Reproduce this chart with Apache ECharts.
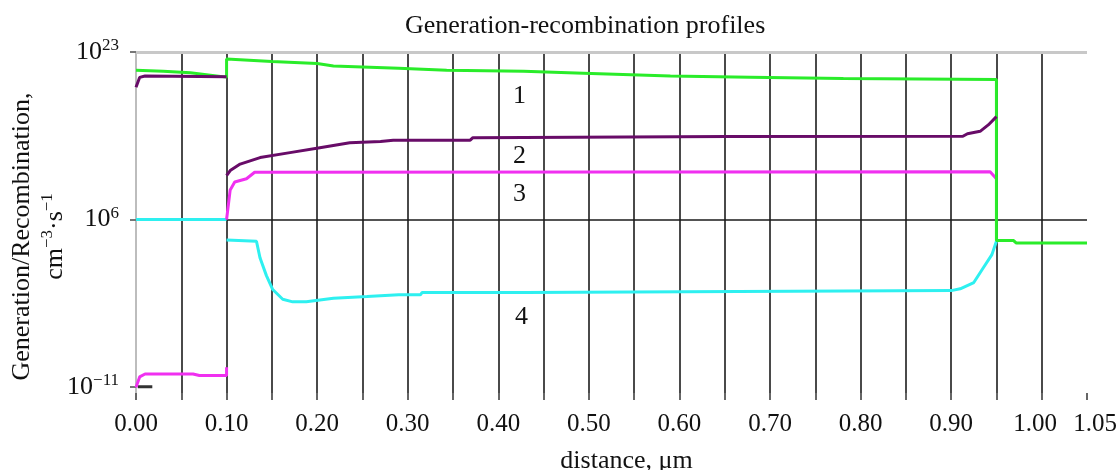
<!DOCTYPE html>
<html>
<head>
<meta charset="utf-8">
<script src="https://cdn.jsdelivr.net/npm/echarts@6/dist/echarts.min.js"></script>
<style>html,body{margin:0;padding:0;background:#fff}#c{width:1118px;height:470px}</style>
</head>
<body>
<div id="c"></div>
<script>
// distance (µm) and log10 of rate (cm^-3·s^-1); null = break in curve
const curve1X   = [0, 0.03, 0.06, 0.1, 0.1, 0.15, 0.2, 0.218, 0.29, 0.343, 0.428, 0.494, 0.59, 0.678, 0.781, 0.95, 0.95, 0.969, 0.972, 1.05];
const curve1Log = [21.14, 21.04, 20.89, 20.45, 22.30, 22.04, 21.84, 21.57, 21.34, 21.14, 21.04, 20.84, 20.57, 20.45, 20.32, 20.22, 3.87, 3.87, 3.61, 3.61];

const curve2X   = [0, 0.004, 0.01, 0.1, 0.1, 0.1, 0.104, 0.115, 0.137, 0.17, 0.203, 0.236, 0.27, 0.284, 0.369, 0.372, 0.653, 0.913, 0.918, 0.932, 0.941, 0.95];
const curve2Log = [19.42, 20.42, 20.57, 20.48, null, 10.47, 10.97, 11.63, 12.29, 12.79, 13.29, 13.79, 13.93, 14.05, 14.05, 14.31, 14.43, 14.45, 14.71, 14.95, 15.60, 16.44];

const curve3X   = [0, 0.004, 0.01, 0.063, 0.07, 0.1, 0.1, 0.1, 0.1, 0.104, 0.109, 0.122, 0.131, 0.943, 0.95];
const curve3Log = [-11.03, -9.97, -9.67, -9.67, -9.83, -9.83, -8.98, null, 6, 9.01, 9.81, 10.14, 10.80, 10.85, 10.14];

const curve4X   = [0, 0.1, 0.1, 0.1, 0.133, 0.137, 0.144, 0.151, 0.162, 0.173, 0.188, 0.218, 0.255, 0.29, 0.314, 0.316, 0.43, 0.432, 0.9, 0.91, 0.925, 0.935, 0.945, 0.95];
const curve4Log = [6, 6, null, 3.93, 3.80, 2.09, 0.31, -1.10, -2.09, -2.35, -2.35, -1.99, -1.82, -1.64, -1.64, -1.39, -1.39, -1.21, -1.21, -1.03, -0.39, 1.03, 2.44, 3.80];

const curve5X   = [0.002, 0.018];
const curve5Log = [-10.97, -10.97];

const xTickLabels = [0, 0.1, 0.2, 0.3, 0.4, 0.5, 0.6, 0.7, 0.8, 0.9, 1.0, 1.05];
const yTickExponents = [-11, 6, 23];
const curveNames = ['1', '2', '3', '4'];

const FONT = '"Liberation Serif", "Times New Roman", serif';
const pairs = (xs, ys) => xs.map((x, i) => [x, ys[i] === null ? null : ys[i]]);
const supText = v => (v < 0 ? '\u2212' + (-v) : String(v));

const chart = echarts.init(document.getElementById('c'), null, {renderer: 'canvas'});

function lineSeries(name, xs, ys, color, z) {
  return {
    name, type: 'line', data: pairs(xs, ys), showSymbol: false, symbol: 'none',
    connectNulls: false, z,
    lineStyle: {color, width: 3}, animation: false
  };
}

const series = [
  Object.assign(lineSeries('5', curve5X, curve5Log, '#333333', 1), {
    markLine: {
      silent: true, symbol: 'none', animation: false, label: {show: false}, z: 1,
      data: [
        {yAxis: 23, lineStyle: {color: '#c8c8c8', width: 3, type: 'solid'}},
        {yAxis: 6, lineStyle: {color: '#1a1a1a', width: 1.5, type: 'solid'}}
      ]
    }
  }),
  lineSeries('4', curve4X, curve4Log, '#2ef0f0', 3),
  lineSeries('3', curve3X, curve3Log, '#f030f0', 4),
  lineSeries('1', curve1X, curve1Log, '#2aec2a', 5),
  lineSeries('2', curve2X, curve2Log, '#680c68', 6)
];

const xLabelStyle = {fontFamily: FONT, fontSize: 25, color: '#111'};

chart.setOption({
  animation: false,
  backgroundColor: '#ffffff',
  title: {
    text: 'Generation-recombination profiles',
    left: 400, top: 8,
    textStyle: {fontFamily: FONT, fontSize: 26, fontWeight: 'normal', color: '#111'}
  },
  grid: {left: 136, right: 31, top: 52, bottom: 77, containLabel: false, outerBoundsMode: 'none'},
  xAxis: {
    type: 'value', min: 0, max: 1.05, interval: 0.05,
    name: 'distance, \u03bcm', nameLocation: 'middle', nameGap: 55, nameMoveOverlap: false,
    nameTextStyle: {fontFamily: FONT, fontSize: 26, color: '#111', padding: [0, 0, 0, 30]},
    axisLine: {show: false, onZero: false},
    axisTick: {show: true, length: 7, lineStyle: {color: '#666', width: 2}},
    axisLabel: {
      customValues: xTickLabels,
      margin: 19, fontFamily: FONT, fontSize: 25, color: '#111', showMinLabel: true, showMaxLabel: true,
      hideOverlap: false,
      formatter: v => {
        const k = Math.round(v * 100);
        const t = (k / 100).toFixed(2);
        if (k === 100) return '{l|' + t + '}';
        if (k === 105) return '{r|' + t + '}';
        return t;
      },
      rich: {
        l: Object.assign({padding: [0, 13, 0, 0]}, xLabelStyle),
        r: Object.assign({padding: [0, 0, 0, 16]}, xLabelStyle)
      }
    },
    splitLine: {show: true, showMinLine: false, showMaxLine: false, lineStyle: {color: '#4a4a4a', width: 2}}
  },
  yAxis: {
    type: 'value', min: -11.6, max: 23,
    name: 'Generation/Recombination,\n{a|cm}{b|\u22123}{a|\u00b7s}{b|\u22121}',
    nameLocation: 'middle', nameRotate: 90, nameGap: 64, nameMoveOverlap: false,
    nameTextStyle: {
      fontFamily: FONT, fontSize: 26, color: '#111', lineHeight: 33, padding: [0, 28, 0, 0],
      rich: {
        a: {fontFamily: FONT, fontSize: 26, color: '#111', lineHeight: 33},
        b: {fontFamily: FONT, fontSize: 17, color: '#111', verticalAlign: 'top', lineHeight: 33}
      }
    },
    axisLine: {show: true, onZero: false, lineStyle: {color: '#bdbdbd', width: 2}},
    axisTick: {show: true, length: 6, customValues: yTickExponents, lineStyle: {color: '#777', width: 2}},
    axisLabel: {
      customValues: yTickExponents, margin: 17,
      formatter: v => '{n|10}{s|' + supText(v) + '}',
      rich: {
        n: {fontFamily: FONT, fontSize: 26, color: '#111', lineHeight: 30},
        s: {fontFamily: FONT, fontSize: 17, color: '#111', verticalAlign: 'top', lineHeight: 30}
      }
    },
    splitLine: {show: false}
  },
  graphic: [
    {type: 'text', left: 513, top: 83, style: {text: curveNames[0], font: '26px ' + FONT, fill: '#111'}},
    {type: 'text', left: 513, top: 143, style: {text: curveNames[1], font: '26px ' + FONT, fill: '#111'}},
    {type: 'text', left: 513, top: 181, style: {text: curveNames[2], font: '26px ' + FONT, fill: '#111'}},
    {type: 'text', left: 515, top: 304, style: {text: curveNames[3], font: '26px ' + FONT, fill: '#111'}}
  ],
  series
});
</script>
</body>
</html>
